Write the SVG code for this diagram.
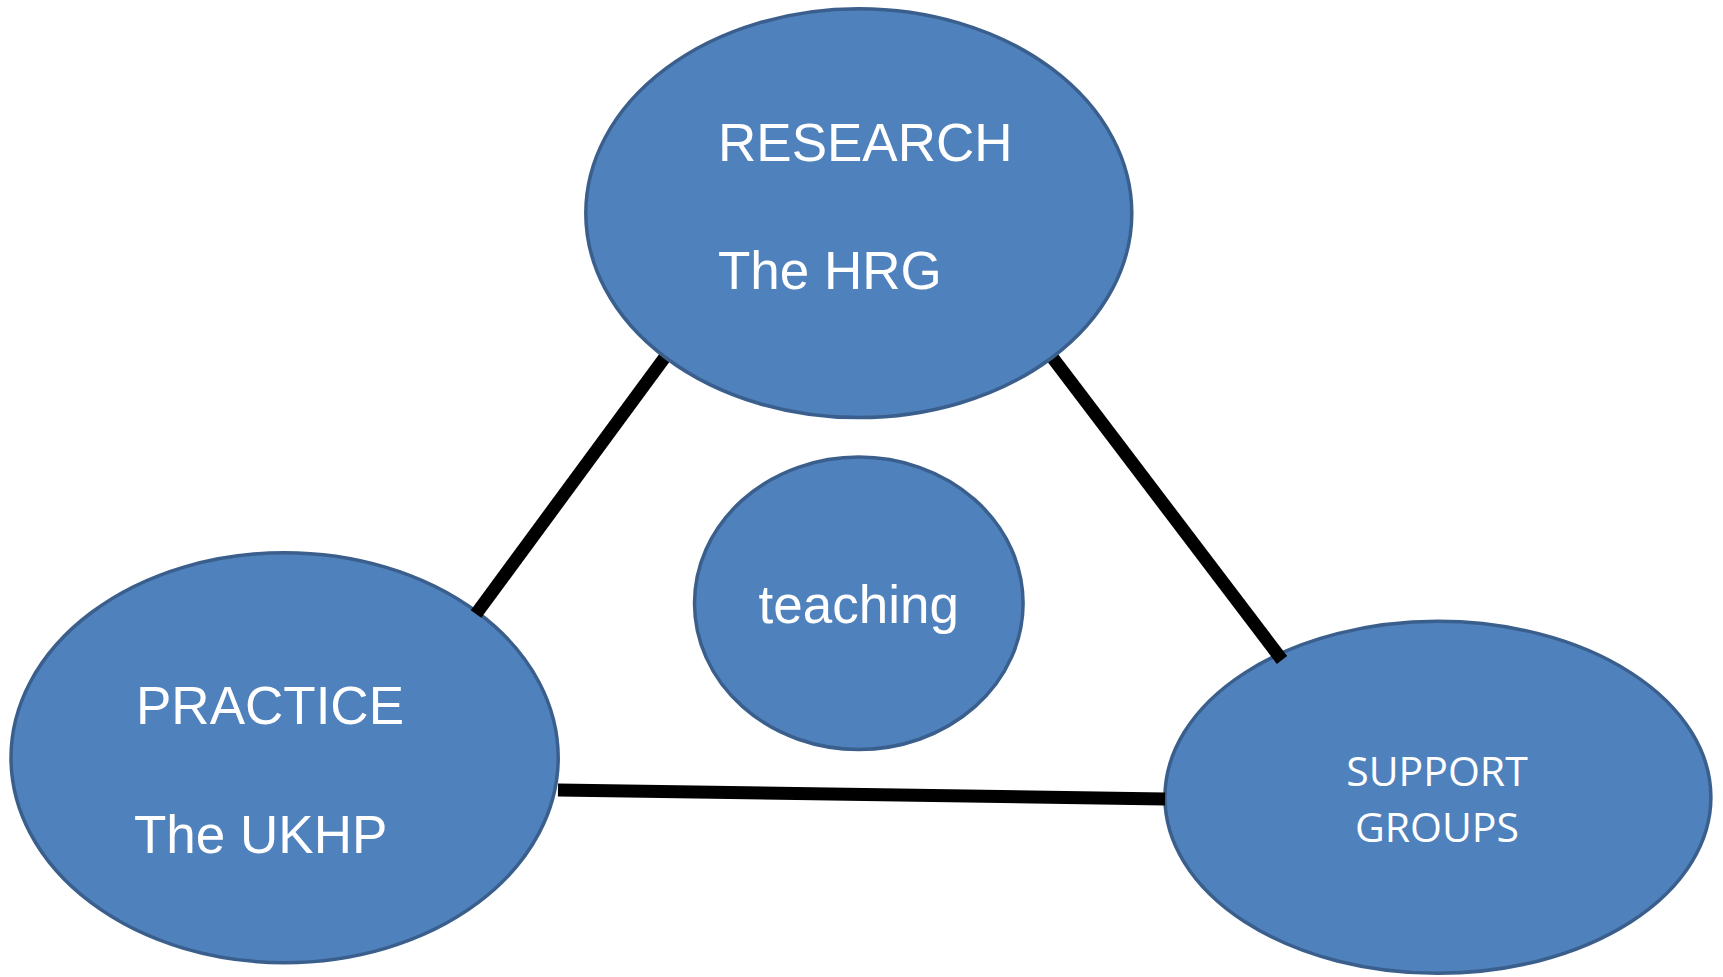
<svg xmlns="http://www.w3.org/2000/svg" width="1723" height="977" viewBox="0 0 1723 977">
<style>
.node{fill:#4F81BD;stroke:#3A5F8C;stroke-width:3.5}
.conn{stroke:#000;stroke-width:13;fill:none}
.lbl{fill:#fff;font-family:"Liberation Sans",Arial,sans-serif;font-size:53px}
.lbl2{fill:#fff;font-family:"Open Sans","Noto Sans",sans-serif;font-size:41px;text-anchor:middle}
</style>
<rect width="1723" height="977" fill="#fff"/>
<g id="practice">
<ellipse class="node" cx="284.6" cy="757.7" rx="273.6" ry="205"/>
<text class="lbl" x="136" y="724">PRACTICE</text>
<text class="lbl" x="134" y="853">The UKHP</text>
</g>
<g id="support">
<ellipse class="node" cx="1437.9" cy="797.3" rx="273" ry="176"/>
<text class="lbl2" x="1437" y="786">SUPPORT</text>
<text class="lbl2" x="1437" y="842">GROUPS</text>
</g>
<g id="teaching">
<ellipse class="node" cx="858.8" cy="603.3" rx="164.3" ry="146.2"/>
<text class="lbl" x="858.8" y="623" text-anchor="middle">teaching</text>
</g>
<g id="connectors">
<line class="conn" x1="668" y1="353" x2="476" y2="614"/>
<line class="conn" x1="1049" y1="353" x2="1282" y2="660"/>
<line class="conn" x1="558" y1="790" x2="1165" y2="799"/>
</g>
<g id="research">
<ellipse class="node" cx="858.8" cy="213.2" rx="273" ry="204.4"/>
<text class="lbl" x="718" y="161">RESEARCH</text>
<text class="lbl" x="718" y="289">The HRG</text>
</g>
</svg>
